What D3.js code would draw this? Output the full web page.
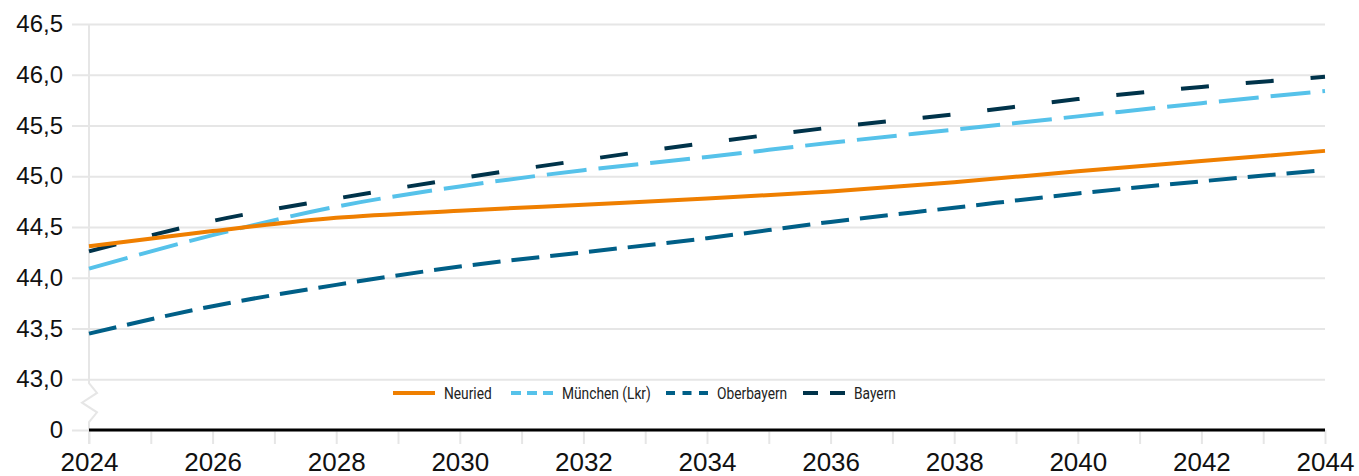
<!DOCTYPE html>
<html>
<head>
<meta charset="utf-8">
<script src="https://cdn.jsdelivr.net/npm/d3@7"></script>
<style>
  body { margin: 0; background: #fff; }
  svg { display: block; font-family: "Liberation Sans", Arial, sans-serif; }
</style>
</head>
<body>
<div id="chart"></div>
<script>
const years = [2024, 2026, 2028, 2030, 2032, 2034, 2036, 2038, 2040, 2042, 2044];
const neuried = [44.31, 44.46, 44.59, 44.66, 44.72, 44.78, 44.85, 44.94, 45.05, 45.15, 45.25];
const muenchen = [44.09, 44.42, 44.70, 44.90, 45.06, 45.19, 45.33, 45.46, 45.59, 45.72, 45.84];
const oberbayern = [43.45, 43.72, 43.93, 44.11, 44.25, 44.39, 44.55, 44.69, 44.83, 44.95, 45.06];
const bayern = [44.26, 44.56, 44.78, 44.98, 45.16, 45.33, 45.48, 45.61, 45.76, 45.88, 45.98];
const yTicks = [42.5, 43, 43.5, 44, 44.5, 45, 45.5, 46, 46.5];
const xLabels = [2024, 2026, 2028, 2030, 2032, 2034, 2036, 2038, 2040, 2042, 2044];

const series = [
    { name: "Neuried", values: neuried, color: "#ef7f00", dash: null, legendDash: null },
    { name: "München (Lkr)", values: muenchen, color: "#56c2ea", dash: "40,12", legendDash: "10,6" },
    { name: "Oberbayern", values: oberbayern, color: "#005f87", dash: "28,11", legendDash: "9,7.5" },
    { name: "Bayern", values: bayern, color: "#00334a", dash: "28,37", legendDash: "15,12" }
];

const W = 1359, H = 476;
const margin = { top: 24, right: 34, bottom: 46, left: 89 };

const svg = d3.select("#chart").append("svg")
    .attr("width", W).attr("height", H);

const x = d3.scaleLinear().domain([2024, 2044]).range([margin.left, W - margin.right]);
const y = d3.scaleLinear().domain([42.5, 46.5]).range([H - margin.bottom, margin.top]);

const grid = "#e6e6e6";

// horizontal grid + y labels
svg.append("g")
    .attr("transform", `translate(${margin.left},0)`)
    .call(d3.axisLeft(y)
        .tickValues(yTicks)
        .tickSize(17)
        .tickPadding(9)
        .tickFormat(d => d === 42.5 ? "0" : d.toFixed(1).replace(".", ",")))
    .call(g => g.select(".domain").remove())
    .call(g => g.selectAll(".tick line").attr("stroke", grid).attr("stroke-width", 2)
        .attr("x2", -17).attr("x1", W - margin.right - margin.left))
    .call(g => g.selectAll(".tick text").attr("fill", "#111").style("font-size", "24px"));

// vertical axis line with break
const yb1 = y(43) + 4, yb2 = y(42.5) - 8;
const step = (yb2 - yb1) / 4;
svg.append("path")
    .attr("fill", "none").attr("stroke", grid).attr("stroke-width", 2)
    .attr("d", `M${margin.left},${y(46.5)}V${yb1}` +
        `L${margin.left + 8},${yb1 + step}L${margin.left - 7},${yb1 + 2 * step}` +
        `L${margin.left + 8},${yb1 + 3 * step}L${margin.left},${yb2}V${H - margin.bottom + 14}`);

// x axis
const xAxis = svg.append("g")
    .attr("transform", `translate(0,${H - margin.bottom})`)
    .call(d3.axisBottom(x)
        .tickValues(d3.range(2024, 2045))
        .tickSize(14)
        .tickPadding(9)
        .tickFormat(d => xLabels.includes(d) ? d : ""));
xAxis.select(".domain").remove();
xAxis.selectAll(".tick line").attr("stroke", grid).attr("stroke-width", 2);
xAxis.selectAll(".tick text").attr("fill", "#111").style("font-size", "26px");
xAxis.append("line")
    .attr("x1", x(2024)).attr("x2", x(2044))
    .attr("stroke", "#000").attr("stroke-width", 3);

// lines
const line = d3.line()
    .x((d, i) => x(years[i]))
    .y(d => y(d))
    .curve(d3.curveMonotoneX);

svg.append("g").selectAll("path")
    .data(series.slice().reverse())
    .join("path")
    .attr("fill", "none")
    .attr("stroke", d => d.color)
    .attr("stroke-width", 4)
    .attr("stroke-dasharray", d => d.dash)
    .attr("d", d => line(d.values));

// legend (condensed look of the original)
const legendX = [393, 511, 666, 803];
const legend = svg.append("g").attr("transform", "translate(0,393)");
const item = legend.selectAll("g").data(series).join("g")
    .attr("transform", (d, i) => `translate(${legendX[i]},0)`);
item.append("line")
    .attr("x1", 0).attr("x2", 42)
    .attr("stroke", d => d.color).attr("stroke-width", 4)
    .attr("stroke-dasharray", d => d.legendDash);
item.append("text")
    .attr("transform", "translate(51,0) scale(0.81,1)")
    .attr("dy", "0.35em")
    .style("font-family", "Roboto, sans-serif")
    .style("font-size", "17px")
    .attr("fill", "#222")
    .text(d => d.name);
</script>
</body>
</html>
